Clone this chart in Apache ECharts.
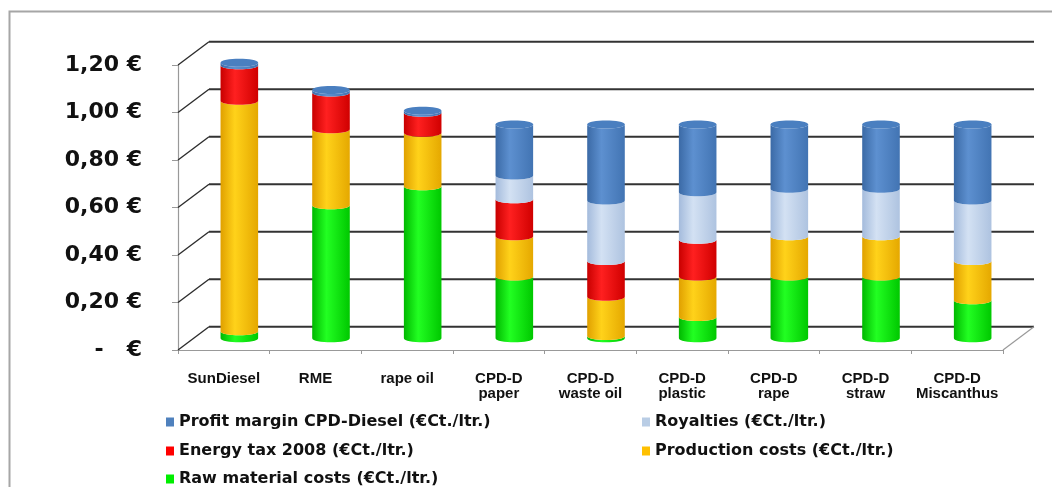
<!DOCTYPE html>
<html>
<head>
<meta charset="utf-8">
<script src="https://cdn.jsdelivr.net/npm/echarts@6/dist/echarts.min.js"></script>
<style>
html,body{margin:0;padding:0;background:#fff;}
#chart{width:1052px;height:487px;}
</style>
</head>
<body>
<div id="chart"></div>
<script>
// ---- data ----
var categories = ['SunDiesel','RME','rape oil','CPD-D\npaper','CPD-D\nwaste oil','CPD-D\nplastic','CPD-D\nrape','CPD-D\nstraw','CPD-D\nMiscanthus'];
var rawMaterial = [0.03, 0.56, 0.64, 0.26, 0.01, 0.09, 0.26, 0.26, 0.16];
var production  = [0.97, 0.32, 0.225, 0.17, 0.165, 0.17, 0.17, 0.17, 0.165];
var energyTax   = [0.15, 0.155, 0.085, 0.155, 0.15, 0.155, 0, 0, 0];
var royalties   = [0, 0, 0, 0.10, 0.255, 0.20, 0.20, 0.20, 0.255];
var profit      = [0.01, 0.01, 0.008, 0.215, 0.32, 0.285, 0.27, 0.27, 0.32];
var yTicks = [0, 0.2, 0.4, 0.6, 0.8, 1.0, 1.2];
var seriesNames = ['Raw material costs (€Ct./ltr.)','Production costs (€Ct./ltr.)','Energy tax 2008 (€Ct./ltr.)','Royalties (€Ct./ltr.)','Profit margin CPD-Diesel (€Ct./ltr.)'];

// ---- styling ----
var stackValues = [rawMaterial, production, energyTax, royalties, profit];
var legendColors = ['#00ee00','#ffc000','#ff0000','#b9cde5','#4f81bd'];
var bodyColors = [
  ['#00b800','#22ff22','#00c800'],
  ['#e0a000','#ffd21a','#e5a800'],
  ['#c80000','#ff2020','#d00000'],
  ['#a4bbdc','#d3e1f3','#aec3e0'],
  ['#3b6aa6','#5d90d0','#4274b3']
];
var capColors = ['#33ff33','#ffd84d','#ff3333','#d8e4f4','#4a7fc0'];

var DX = 15.5, DY = -11.7;   // bar depth offset (mid plane)
var BX = 31, BY = -23.3;     // back wall offset

// cumulative bases
var bases = stackValues.map(function(){return [];});
for (var i = 0; i < categories.length; i++) {
  var acc = 0;
  for (var s = 0; s < stackValues.length; s++) { bases[s][i] = acc; acc += stackValues[s][i]; }
}
function topIndex(i){
  var t = -1;
  for (var s = 0; s < stackValues.length; s++) if (stackValues[s][i] > 0) t = s;
  return t;
}

function makeSeries(s){
  return {
    type: 'custom',
    name: seriesNames[s],
    z: 3,
    itemStyle: {color: legendColors[s]},
    encode: {x: 0, y: [1, 2]},
    data: stackValues[s].map(function(v, i){ return [i, bases[s][i], bases[s][i] + v]; }),
    renderItem: function(params, api){
      var i = api.value(0), lo = api.value(1), hi = api.value(2);
      if (hi - lo <= 0) return null;
      var p0 = api.coord([i, lo]), p1 = api.coord([i, hi]);
      var w = api.size([1, 0])[0] * 0.41;
      var cx = p0[0] + DX, yl = p0[1] + DY, yh = p1[1] + DY;
      var xl = cx - w/2, xr = cx + w/2;
      var ry = 4, k = ry * 4 / 3;
      var body = 'M' + xl + ' ' + yh + ' L' + xl + ' ' + yl +
        ' C' + xl + ' ' + (yl + k) + ' ' + xr + ' ' + (yl + k) + ' ' + xr + ' ' + yl +
        ' L' + xr + ' ' + yh +
        ' C' + xr + ' ' + (yh + k) + ' ' + xl + ' ' + (yh + k) + ' ' + xl + ' ' + yh + ' Z';
      var c = bodyColors[s];
      var children = [{
        type: 'path',
        shape: {pathData: body},
        style: {fill: new echarts.graphic.LinearGradient(0, 0, 1, 0, [
          {offset: 0, color: c[0]}, {offset: 0.38, color: c[1]}, {offset: 1, color: c[2]}
        ]), stroke: null}
      }];
      if (topIndex(i) === s) {
        var cap = 'M' + xl + ' ' + yh +
          ' C' + xl + ' ' + (yh - k) + ' ' + xr + ' ' + (yh - k) + ' ' + xr + ' ' + yh +
          ' C' + xr + ' ' + (yh + k) + ' ' + xl + ' ' + (yh + k) + ' ' + xl + ' ' + yh + ' Z';
        children.push({type: 'path', shape: {pathData: cap}, style: {fill: capColors[s], stroke: null}});
      }
      return {type: 'group', children: children};
    }
  };
}

var wallSeries = {
  type: 'custom',
  name: 'walls',
  z: 1,
  silent: true,
  encode: {x: 0, y: 1},
  data: yTicks.map(function(v){ return [0, v]; }),
  renderItem: function(params, api){
    var cs = params.coordSys;
    var x0 = cs.x, x1 = cs.x + cs.width;
    var v = api.value(1);
    var y = api.coord([0, v])[1];
    var ch = [
      {type: 'line', shape: {x1: x0, y1: y, x2: x0 + BX, y2: y + BY}, style: {stroke: '#2a2a2a', lineWidth: 1.3}},
      {type: 'line', shape: {x1: x0 + BX, y1: y + BY, x2: x1 + BX, y2: y + BY}, style: {stroke: '#333', lineWidth: 2}}
    ];
    if (v === 0) {
      ch.push({type: 'line', shape: {x1: x1, y1: y, x2: x1 + BX, y2: y + BY}, style: {stroke: '#999', lineWidth: 1.2}});
    }
    return {type: 'group', children: ch};
  }
};

var series = [wallSeries];
for (var s2 = 0; s2 < stackValues.length; s2++) series.push(makeSeries(s2));

var legendText = {fontSize: 16, fontWeight: 'bold', fontFamily: 'DejaVu Sans, sans-serif', color: '#111'};
function legendItem(name, left, top){
  return {data: [name], orient: 'horizontal', left: left, top: top, icon: 'rect', itemWidth: 8, itemHeight: 9,
    selectedMode: false, padding: 0, textStyle: legendText};
}

var chart = echarts.init(document.getElementById('chart'), null, {renderer: 'canvas'});
chart.setOption({
  animation: false,
  backgroundColor: '#fff',
  graphic: [{
    type: 'rect', left: 7, top: 9, silent: true,
    shape: {width: 1200, height: 600},
    style: {fill: null, stroke: '#a6a6a6', lineWidth: 2}
  }],
  grid: {left: 178, top: 65, width: 825, height: 285},
  xAxis: {
    type: 'category',
    data: categories,
    axisLine: {show: true, lineStyle: {color: '#999', width: 1.2}},
    axisTick: {show: true, length: 4, lineStyle: {color: '#999'}},
    axisLabel: {interval: 0, margin: 21, fontSize: 15, fontWeight: 'bold', color: '#111', lineHeight: 15,
      fontFamily: 'Liberation Sans, Arial, sans-serif'},
    splitLine: {show: false}
  },
  yAxis: {
    type: 'value',
    min: 0, max: 1.2, interval: 0.2,
    axisLine: {show: true, lineStyle: {color: '#999', width: 1.2}},
    axisTick: {show: true, length: 6, lineStyle: {color: '#999'}},
    splitLine: {show: false},
    axisLabel: {
      margin: 36, fontSize: 22, fontWeight: 'bold', color: '#111',
      fontFamily: 'DejaVu Sans, sans-serif',
      formatter: function(v){ return v === 0 ? '-   €' : v.toFixed(2).replace('.', ',') + ' €'; }
    }
  },
  legend: [
    legendItem('Profit margin CPD-Diesel (€Ct./ltr.)', 166, 414),
    legendItem('Royalties (€Ct./ltr.)', 642, 414),
    legendItem('Energy tax 2008 (€Ct./ltr.)', 166, 443),
    legendItem('Production costs (€Ct./ltr.)', 642, 443),
    legendItem('Raw material costs (€Ct./ltr.)', 166, 471)
  ],
  series: series
});
</script>
</body>
</html>
